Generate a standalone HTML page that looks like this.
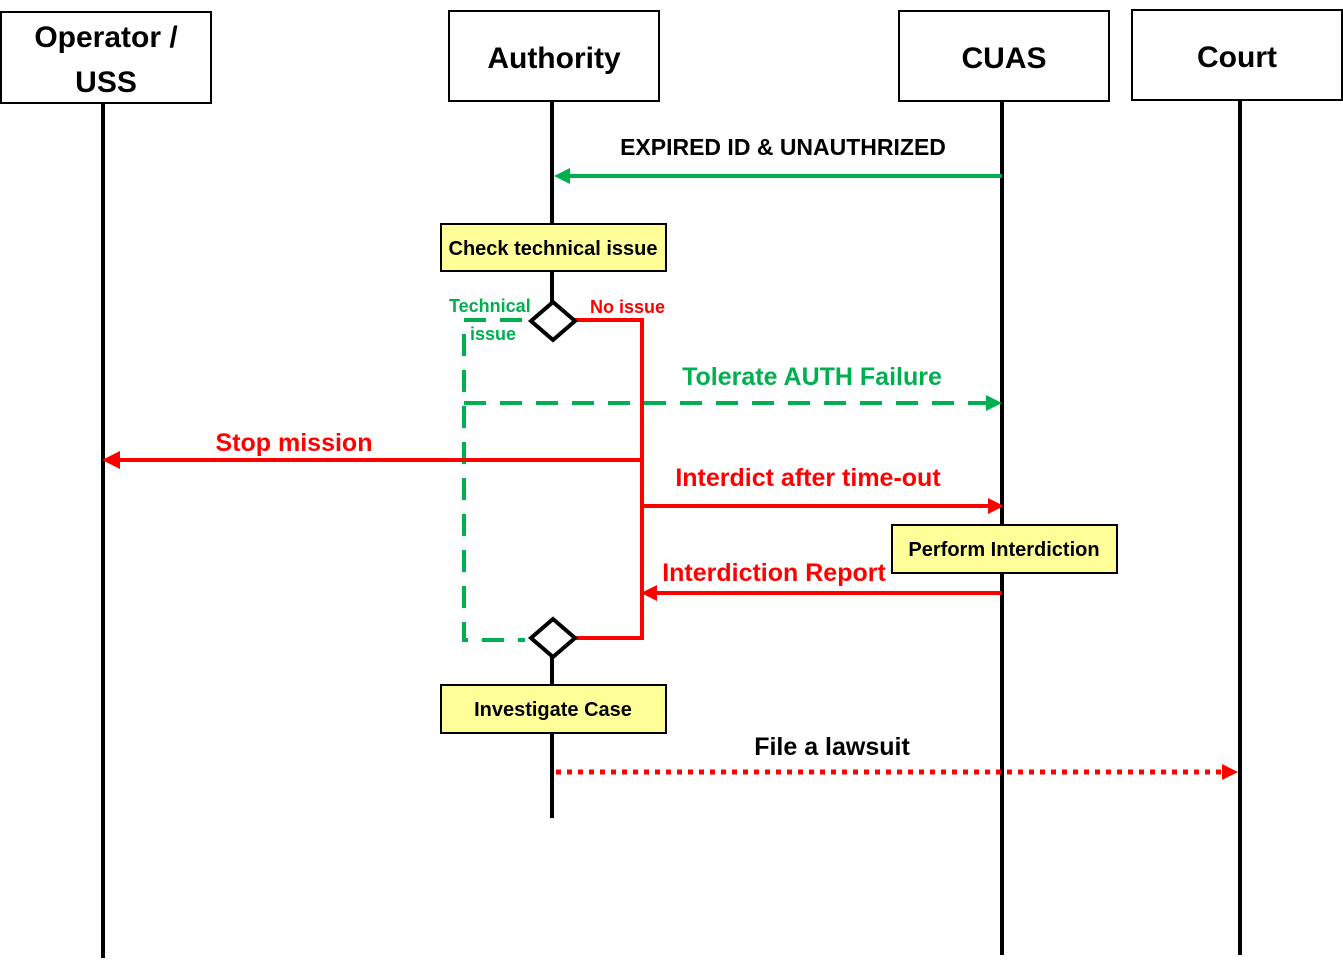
<!DOCTYPE html>
<html><head><meta charset="utf-8"><style>
html,body{margin:0;padding:0;background:#fff;}
svg text{font-family:"Liberation Sans",sans-serif;font-weight:bold;}
</style></head><body>
<svg width="1343" height="962" viewBox="0 0 1343 962" xmlns="http://www.w3.org/2000/svg">
<!-- lifelines -->
<g stroke="#000" stroke-width="4">
<line x1="103" y1="103" x2="103" y2="958"/>
<line x1="552" y1="101" x2="552" y2="224"/>
<line x1="552" y1="271" x2="552" y2="302"/>
<line x1="552" y1="657" x2="552" y2="685"/>
<line x1="552" y1="733" x2="552" y2="818"/>
<line x1="1002" y1="101" x2="1002" y2="955"/>
<line x1="1240" y1="100" x2="1240" y2="955"/>
</g>
<rect x="546" y="342" width="12" height="276" fill="#fff"/>
<!-- header boxes -->
<g fill="#fff" stroke="#000" stroke-width="2">
<rect x="1" y="12" width="210" height="91"/>
<rect x="449" y="11" width="210" height="90"/>
<rect x="899" y="11" width="210" height="90"/>
<rect x="1132" y="10" width="210" height="90"/>
</g>
<g font-size="30" text-anchor="middle" fill="#000">
<text x="106" y="47">Operator /</text>
<text x="106" y="92">USS</text>
<text x="554" y="68">Authority</text>
<text x="1004" y="68">CUAS</text>
<text x="1237" y="67">Court</text>
</g>
<!-- green solid arrow -->
<line x1="1002" y1="176" x2="566" y2="176" stroke="#00B050" stroke-width="4"/>
<path d="M554,176 L570,168 L570,184 z" fill="#00B050"/>
<text x="783" y="155" font-size="23" text-anchor="middle">EXPIRED ID &amp; UNAUTHRIZED</text>
<!-- yellow boxes -->
<g fill="#FFFF99" stroke="#000" stroke-width="2">
<rect x="441" y="224" width="225" height="47"/>
<rect x="892" y="525" width="225" height="48"/>
<rect x="441" y="685" width="225" height="48"/>
</g>
<g font-size="20" text-anchor="middle" fill="#000">
<text x="553" y="255">Check technical issue</text>
<text x="1004" y="556">Perform Interdiction</text>
<text x="553" y="716">Investigate Case</text>
</g>
<!-- green dashed -->
<g stroke="#00B050" stroke-width="4" fill="none" stroke-dasharray="22,14">
<polyline points="522,320 464,320 464,640 525,640"/>
<line x1="464" y1="403" x2="990" y2="403"/>
</g>
<path d="M986,395 L1002,403 L986,411 z" fill="#00B050"/>
<!-- red lines -->
<g stroke="#FF0000" stroke-width="4" fill="none">
<polyline points="575,320 642,320 642,638 575,638"/>
<line x1="642" y1="460" x2="115" y2="460"/>
<line x1="642" y1="506" x2="990" y2="506"/>
<line x1="1002" y1="593" x2="654" y2="593"/>
<line x1="556" y1="772" x2="1225" y2="772" stroke-width="5" stroke-dasharray="5,6"/>
</g>
<g fill="#FF0000">
<path d="M102,460 L120,451 L120,469 z"/>
<path d="M1004,506 L988,498 L988,514 z"/>
<path d="M641,593 L657,585 L657,601 z"/>
<path d="M1222,764 L1238,772 L1222,780 z"/>
</g>
<!-- diamonds -->
<g fill="#fff" stroke="#000" stroke-width="4">
<path d="M553,302 L575,321 L553,340 L531,321 z"/>
<path d="M553,619 L575,638 L553,657 L531,638 z"/>
</g>
<!-- labels -->
<g font-size="18">
<text x="449" y="312" fill="#00B050">Technical</text>
<text x="470" y="340" fill="#00B050">issue</text>
<text x="590" y="313" fill="#FF0000">No issue</text>
</g>
<g font-size="25">
<text x="812" y="385" fill="#00B050" text-anchor="middle">Tolerate AUTH Failure</text>
<text x="294" y="451" fill="#FF0000" text-anchor="middle">Stop mission</text>
<text x="808" y="486" fill="#FF0000" text-anchor="middle">Interdict after time-out</text>
<text x="774" y="581" fill="#FF0000" text-anchor="middle">Interdiction Report</text>
<text x="832" y="755" fill="#000" text-anchor="middle">File a lawsuit</text>
</g>
</svg>
</body></html>
